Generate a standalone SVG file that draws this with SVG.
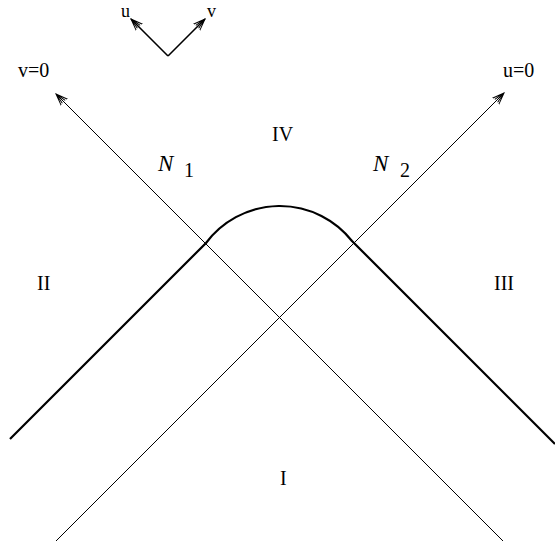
<svg xmlns="http://www.w3.org/2000/svg" width="555" height="550" viewBox="0 0 555 550">
<style>
.t{font-family:"Liberation Serif","Times New Roman",serif;font-size:20px;fill:#000}
.s{font-family:"Liberation Serif","Times New Roman",serif;font-size:18px;fill:#000}
.n{font-family:"Liberation Serif","Times New Roman",serif;font-size:23px;font-style:italic;fill:#000}
.thin{stroke:#000;stroke-width:1;fill:none}
.bold{stroke:#000;stroke-width:2.2;fill:none}
.mid{stroke:#000;stroke-width:1.6;fill:none}
</style>
<defs>
<marker id="ah" markerUnits="userSpaceOnUse" markerWidth="16" markerHeight="12" refX="12" refY="5" orient="auto" viewBox="0 0 16 12">
<path d="M0,0.5 L12,5 L0,9.5 M1,3 L12,5 L1,7" fill="none" stroke="#000" stroke-width="1"/>
</marker>
</defs>
<rect width="555" height="550" fill="#fff"/>
<g id="connectors">
<line class="thin" x1="503" y1="541" x2="56" y2="94" marker-end="url(#ah)"/>
<line class="thin" x1="56" y1="541" x2="504" y2="93" marker-end="url(#ah)"/>
<line class="mid" x1="168" y1="56" x2="131" y2="19" marker-end="url(#ah)"/>
<line class="mid" x1="168" y1="56" x2="205" y2="19" marker-end="url(#ah)"/>
</g>
<g id="horizon">
<path class="bold" d="M10,439 L206,243 A92,92 0 0 1 352,241 L555,444"/>
</g>
<g id="labels">
<text class="s" x="121" y="17">u</text>
<text class="s" x="207" y="17">v</text>
<text class="t" x="18" y="77">v=0</text>
<text class="t" x="503" y="77">u=0</text>
<text class="t" x="272" y="141">IV</text>
<text class="t" x="37" y="290">II</text>
<text class="t" x="494" y="290">III</text>
<text class="t" x="280" y="485">I</text>
<text class="n" x="158" y="171">N</text>
<text class="t" x="184" y="177">1</text>
<text class="n" x="373" y="171">N</text>
<text class="t" x="400" y="177">2</text>
</g>
</svg>
